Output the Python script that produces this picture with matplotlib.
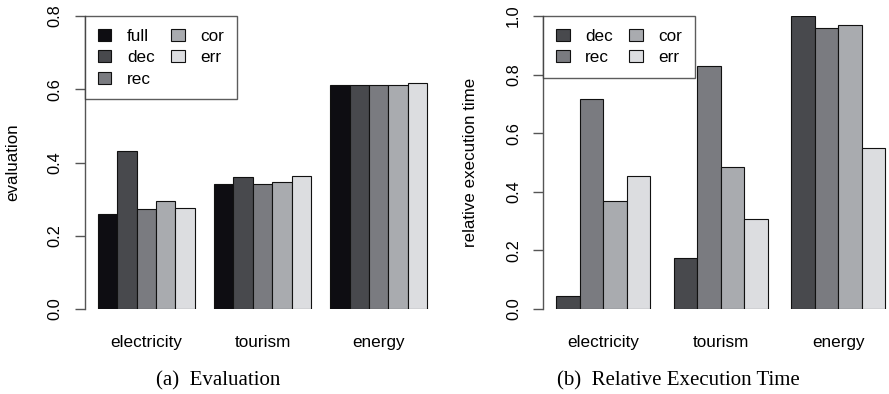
import numpy as np
import matplotlib.pyplot as plt
from matplotlib.patches import Patch

datasets = ["electricity", "tourism", "energy"]

# (a) evaluation
eval_methods = ["full", "dec", "rec", "cor", "err"]
eval_full = [0.260, 0.340, 0.611]
eval_dec = [0.431, 0.361, 0.611]
eval_rec = [0.273, 0.340, 0.611]
eval_cor = [0.294, 0.346, 0.611]
eval_err = [0.277, 0.364, 0.616]

# (b) relative execution time
time_methods = ["dec", "rec", "cor", "err"]
time_dec = [0.045, 0.173, 1.000]
time_rec = [0.717, 0.829, 0.958]
time_cor = [0.367, 0.485, 0.968]
time_err = [0.455, 0.307, 0.548]

colors = {"full": "#0e0d12", "dec": "#48494d", "rec": "#7a7b80",
          "cor": "#a9abaf", "err": "#dcdde0"}

plt.rcParams['font.family'] = ['Liberation Sans', 'DejaVu Sans']

W, H = 889, 394
fig = plt.figure(figsize=(W / 100, H / 100), dpi=100)


def r_barplot(ax, series, methods, ymax, yticks, ylabel):
    n = len(methods)
    starts = np.arange(len(datasets)) * (n + 1) + 1
    for i, (m, vals) in enumerate(zip(methods, series)):
        ax.bar(starts + i, vals, width=1, align='edge', color=colors[m],
               edgecolor='#111111', linewidth=0.8, label=m)
    total = len(datasets) * (n + 1)
    pad = (total - 1) * 0.04
    ax.set_xlim(1 - pad, total + pad)
    ax.set_ylim(0, ymax)
    for s in ["top", "right", "bottom"]:
        ax.spines[s].set_visible(False)
    ax.spines["left"].set_color("#555555")
    ax.spines["left"].set_linewidth(1.0)
    ax.spines["left"].set_bounds(0, ymax)
    ax.set_yticks(yticks)
    ax.set_yticklabels([f"{t:.1f}" for t in yticks], rotation=90, va='center')
    ax.tick_params(axis='y', length=7, width=1, color='#555555', pad=9,
                   labelsize=11.8)
    ax.set_xticks(starts + n / 2)
    ax.set_xticklabels(datasets, fontsize=12.3)
    ax.tick_params(axis='x', length=0, pad=18.5)
    ax.set_ylabel(ylabel, fontsize=12.2)
    ax.patch.set_visible(False)
    handles = [Patch(facecolor=colors[m], edgecolor='#111111', linewidth=0.8)
               for m in methods]
    leg = ax.legend(handles, methods, ncol=2, loc='upper left',
                    bbox_to_anchor=(0, 1), borderaxespad=0, fontsize=12.3,
                    frameon=True, fancybox=False, edgecolor='#333333',
                    handlelength=0.8, handleheight=0.72, handletextpad=0.9,
                    columnspacing=0.95, labelspacing=0.37, borderpad=0.75)
    leg.get_frame().set_linewidth(1.0)
    return ax


ax1 = fig.add_axes([85 / W, (H - 309) / H, (440 - 85) / W, (309 - 16) / H])
r_barplot(ax1, [eval_full, eval_dec, eval_rec, eval_cor, eval_err],
          eval_methods, 0.8, [0.0, 0.2, 0.4, 0.6, 0.8], "evaluation")
ax1.yaxis.set_label_coords(-(85 - 20) / 355, 0.5)

ax2 = fig.add_axes([543.3 / W, (H - 309) / H, 355.2 / W, (309 - 16) / H])
r_barplot(ax2, [time_dec, time_rec, time_cor, time_err],
          time_methods, 1.0, [0.0, 0.2, 0.4, 0.6, 0.8, 1.0],
          "relative execution time")
ax2.yaxis.set_label_coords(-(543.3 - 478) / 355.2, 0.5)

fig.text(218 / W, 1 - 381 / H, "(a)  Evaluation", ha='center', va='center',
         fontsize=15, family='Liberation Serif')
fig.text(678 / W, 1 - 381 / H, "(b)  Relative Execution Time", ha='center',
         va='center', fontsize=15, family='Liberation Serif')

fig.savefig("out.png", dpi=100)
